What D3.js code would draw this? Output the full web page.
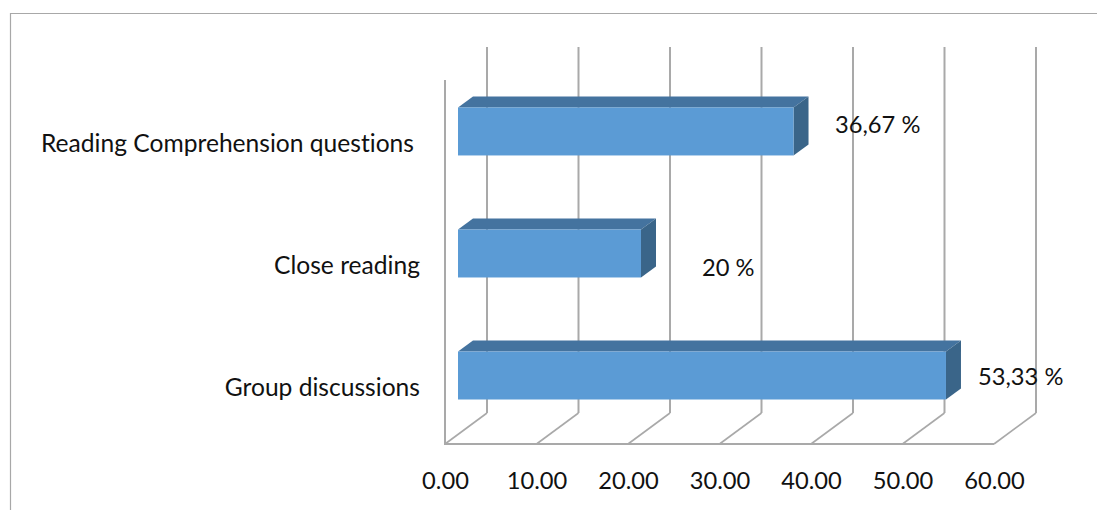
<!DOCTYPE html>
<html>
<head>
<meta charset="utf-8">
<script src="https://cdn.jsdelivr.net/npm/d3@7"></script>
<style>
  html, body { margin: 0; padding: 0; background: #fff; }
  svg { display: block; }
  text { font-family: Lato, "Open Sans", sans-serif; fill: #111; font-variant-ligatures: none; }
</style>
</head>
<body>
<svg id="chart" width="1097" height="510"></svg>
<script>
// Shares of each reading activity, listed bottom to top
const categories = ["Group discussions", "Close reading", "Reading Comprehension questions"];
const values = [53.33, 20, 36.67];
const valueLabels = ["53,33 %", "20 %", "36,67 %"];
const xTicks = [0, 10, 20, 30, 40, 50, 60];

const svg = d3.select("#chart");

// Front plane of the 3D box, and how far the back wall is shifted from it
const plot = { left: 445, right: 994, top: 80, bottom: 444 };
const wall = { dx: 42, dy: -31, top: 47 };
const barInset = 13;   // bars stand this far in from the front plane
const barDepth = { dx: 15, dy: -11 };
const gridColor = "#a9a9a9";

const x = d3.scaleLinear().domain([0, 60]).range([plot.left, plot.right]);
const y = d3.scaleBand().domain(categories).range([399.5, 107.5]).paddingInner(0.607).paddingOuter(0);

// Outer frame, only the top and left edges
svg.append("path")
  .attr("d", d3.line()([[1097, 13.5], [10.5, 13.5], [10.5, 510]]))
  .attr("fill", "none").attr("stroke", "#a8a8a8").attr("stroke-width", 1.2);

// Back wall gridlines
svg.append("g").selectAll("line").data(xTicks).join("line")
  .attr("x1", d => x(d) + wall.dx).attr("x2", d => x(d) + wall.dx)
  .attr("y1", wall.top).attr("y2", plot.bottom + wall.dy)
  .attr("stroke", gridColor).attr("stroke-width", 2);

// Floor diagonals
svg.append("g").selectAll("line").data(xTicks).join("line")
  .attr("x1", d => x(d)).attr("x2", d => x(d) + wall.dx)
  .attr("y1", plot.bottom).attr("y2", plot.bottom + wall.dy)
  .attr("stroke", gridColor).attr("stroke-width", 1.6);

// Left wall and front floor edge
svg.append("path")
  .attr("d", d3.line()([[plot.left, plot.top], [plot.left, plot.bottom], [plot.right, plot.bottom]]))
  .attr("fill", "none").attr("stroke", gridColor).attr("stroke-width", 2);

// Value axis labels
const axis = d3.axisBottom(x).tickValues(xTicks).tickFormat(d3.format(".2f")).tickSize(0).tickPadding(28);
const axisG = svg.append("g").attr("transform", `translate(0,${plot.bottom})`).call(axis);
axisG.select(".domain").remove();
axisG.selectAll("text").style("font-size", "23.7px").style("font-family", "Lato, sans-serif").attr("fill", "#111");

// Bars: front, top and side faces
const bars = svg.append("g").selectAll("g")
  .data(categories.map((c, i) => ({ c, v: values[i], label: valueLabels[i] })))
  .join("g");

const frontX = barInset + plot.left;
const barRight = d => x(d.v) + barInset;

bars.append("path")
  .attr("fill", "#44739f")
  .attr("d", d => d3.line()([
    [frontX, y(d.c)], [frontX + barDepth.dx, y(d.c) + barDepth.dy],
    [barRight(d) + barDepth.dx, y(d.c) + barDepth.dy], [barRight(d), y(d.c)]
  ]) + "Z");

bars.append("path")
  .attr("fill", "#3a6589")
  .attr("d", d => d3.line()([
    [barRight(d), y(d.c)], [barRight(d) + barDepth.dx, y(d.c) + barDepth.dy],
    [barRight(d) + barDepth.dx, y(d.c) + y.bandwidth() + barDepth.dy], [barRight(d), y(d.c) + y.bandwidth()]
  ]) + "Z");

bars.append("rect")
  .attr("x", frontX).attr("y", d => y(d.c))
  .attr("width", d => barRight(d) - frontX).attr("height", y.bandwidth())
  .attr("fill", "#5b9bd5");

// Category labels, right aligned against the plot
const categoryRight = [420, 420, 414];
bars.append("text")
  .attr("x", (d, i) => categoryRight[i])
  .attr("y", d => y(d.c) + y.bandwidth() / 2 + 20.5)
  .attr("text-anchor", "end").style("font-size", "24.6px")
  .text(d => d.c);

// Value labels sit a little to the right of their bars
const labelLeft = [978, 702, 835];
const labelBaseline = [385, 276, 133];
bars.append("text")
  .attr("x", (d, i) => labelLeft[i])
  .attr("y", (d, i) => labelBaseline[i])
  .style("font-size", "23.7px")
  .text(d => d.label);
</script>
</body>
</html>
